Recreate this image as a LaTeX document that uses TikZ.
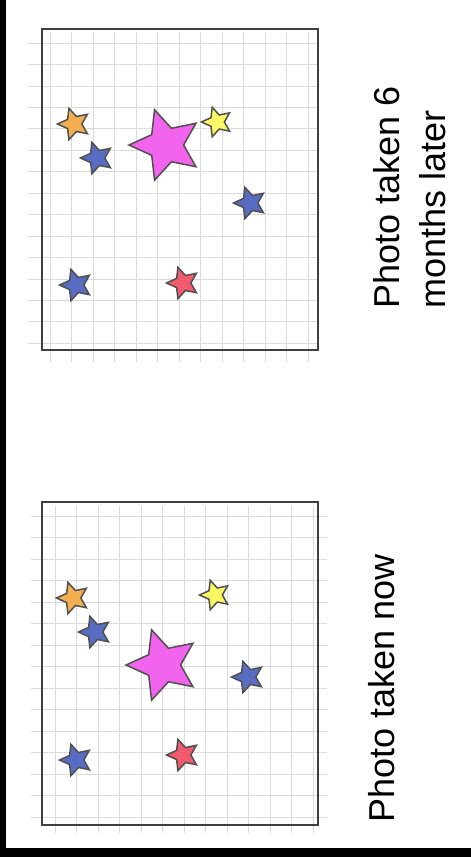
\documentclass[tikz,border=0pt]{standalone}
\usepackage{fontspec}
\setmainfont{Liberation Sans}
\usepackage{tikz}
\usetikzlibrary{shapes.geometric}
\usepackage{xcolor}
\definecolor{starorange}{RGB}{244,176,80}
\definecolor{starblue}{RGB}{88,108,196}
\definecolor{starpink}{RGB}{242,100,238}
\definecolor{staryellow}{RGB}{250,248,100}
\definecolor{starred}{RGB}{242,90,110}
\definecolor{rimgray}{RGB}{80,80,80}

\begin{document}
\begin{tikzpicture}[x=1pt, y=-1pt,
    gridline/.style={gray!28, line width=0.8pt},
    frame/.style={draw=black!75, line width=1.6pt},
    skystar/.style={star, star points=5, star point ratio=2.1, shape border rotate=90,
      draw=rimgray, line width=1.5pt, inner sep=0pt, minimum size=#1},
    skystar/.default=33pt,
    caption/.style={rotate=90, inner sep=0pt, align=left, font=\fontsize{36}{46}\selectfont}]
    \useasboundingbox (0,0) rectangle (471,857);
    \fill[black] (0,0) rectangle (471,857);
    \fill[white] (6,0) rectangle (471,848);

    % photo taken 6 months later
    \foreach \k in {0,...,12}
        \draw[gridline] ({50+21.5*\k},32) -- ({50+21.5*\k},362);
    \foreach \k in {0,...,14}
        \draw[gridline] (28,{43+21.45*\k}) -- (318,{43+21.45*\k});
    \draw[frame] (42,29) rectangle (318,350);
    \node[skystar, fill=starorange] (later-orange) at (74,124) {};
    \node[skystar, fill=starblue] (later-blue-a) at (97,158) {};
    \node[skystar=74pt, fill=starpink] (later-pink) at (166,145) {};
    \node[skystar=31pt, fill=staryellow] (later-yellow) at (217,122) {};
    \node[skystar, fill=starblue] (later-blue-b) at (250,203) {};
    \node[skystar, fill=starblue] (later-blue-c) at (76,285) {};
    \node[skystar, fill=starred] (later-red) at (183,283) {};
    \node[caption, anchor=west] (later-text) at (410,309) {Photo taken 6\\months later};

    % photo taken now
    \foreach \k in {0,...,12}
        \draw[gridline] ({55+21.5*\k},506) -- ({55+21.5*\k},833);
    \foreach \k in {0,...,14}
        \draw[gridline] (31,{516+21.5*\k}) -- (327,{516+21.5*\k});
    \draw[frame] (42,502) rectangle (318,825);
    \node[skystar, fill=starorange] (now-orange) at (73,598) {};
    \node[skystar, fill=starblue] (now-blue-a) at (95,632) {};
    \node[skystar=74pt, fill=starpink] (now-pink) at (163,665) {};
    \node[skystar=31pt, fill=staryellow] (now-yellow) at (215,595) {};
    \node[skystar, fill=starblue] (now-blue-b) at (248,677) {};
    \node[skystar, fill=starblue] (now-blue-c) at (76,760) {};
    \node[skystar, fill=starred] (now-red) at (183,755) {};
    \node[caption, anchor=west] (now-text) at (382,823) {Photo taken now};
\end{tikzpicture}
\end{document}
